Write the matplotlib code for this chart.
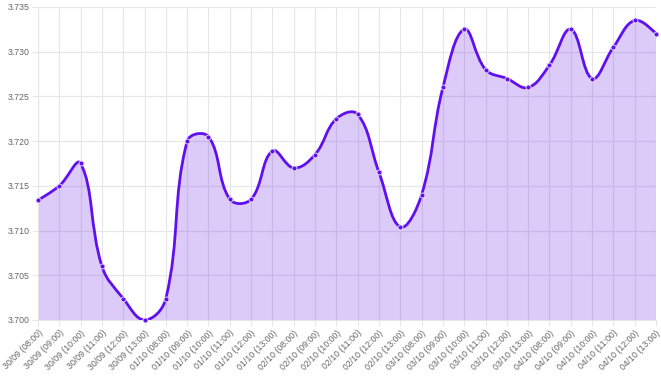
import matplotlib
matplotlib.use("Agg")
import matplotlib.pyplot as plt
import numpy as np
from matplotlib.path import Path
from matplotlib.patches import PathPatch

plt.rcParams["font.family"] = ["Liberation Sans", "DejaVu Sans"]

# data
days = ["30/09", "01/10", "02/10", "03/10", "04/10"]
hours = ["08:00", "09:00", "10:00", "11:00", "12:00", "13:00"]
labels = [f"{d} ({h})" for d in days for h in hours]
values = [
    3.7134, 3.7150, 3.7175, 3.7060, 3.7024, 3.7000,
    3.7024, 3.7200, 3.7205, 3.7135, 3.7135, 3.7189,
    3.7170, 3.7185, 3.7225, 3.7230, 3.7165, 3.7104,
    3.7140, 3.7260, 3.7325, 3.7280, 3.7270, 3.7260,
    3.7285, 3.7325, 3.7270, 3.7305, 3.7335, 3.7320,
]
y_min, y_max, y_step = 3.700, 3.735, 0.005

line_color = "#6010f0"
fill_color = "#6013e8"
grid_color = "#e6e6e6"
text_color = "#666666"

fig = plt.figure(figsize=(6.61, 3.76), dpi=100)
ax = fig.add_axes([0.0575, 0.149, 0.935, 0.8325])

x = np.arange(len(values))
y = np.array(values)
ax.set_xlim(0, len(values) - 1)
ax.set_ylim(y_min, y_max)

# chart.js style spline (tension 0.4), computed in pixel space
fig.canvas.draw()
pts = ax.transData.transform(np.column_stack([x, y]))
tension = 0.4
cp_prev = pts.copy()
cp_next = pts.copy()
for i in range(1, len(pts) - 1):
    p0, p1, p2 = pts[i - 1], pts[i], pts[i + 1]
    d01 = np.hypot(*(p1 - p0))
    d12 = np.hypot(*(p2 - p1))
    s01 = d01 / (d01 + d12)
    s12 = d12 / (d01 + d12)
    cp_prev[i] = p1 - tension * s01 * (p2 - p0)
    cp_next[i] = p1 + tension * s12 * (p2 - p0)
inv = ax.transData.inverted()
cp_prev = inv.transform(cp_prev)
cp_next = inv.transform(cp_next)
cp_prev[:, 1] = np.clip(cp_prev[:, 1], y_min, y_max)
cp_next[:, 1] = np.clip(cp_next[:, 1], y_min, y_max)

verts = [(x[0], y[0])]
codes = [Path.MOVETO]
for i in range(len(x) - 1):
    verts += [tuple(cp_next[i]), tuple(cp_prev[i + 1]), (x[i + 1], y[i + 1])]
    codes += [Path.CURVE4] * 3

fill_verts = verts + [(x[-1], y_min), (x[0], y_min), (x[0], y[0])]
fill_codes = codes + [Path.LINETO, Path.LINETO, Path.CLOSEPOLY]
ax.add_patch(PathPatch(Path(fill_verts, fill_codes), facecolor=fill_color,
                       alpha=0.22, edgecolor="none", zorder=1))
ax.add_patch(PathPatch(Path(verts, codes), facecolor="none",
                       edgecolor=line_color, lw=2, zorder=3))
ax.plot(x, y, "o", color=line_color, markersize=3.6, markeredgecolor="#f0e8ff",
        markeredgewidth=0.6, zorder=4, clip_on=False)

# axes
ax.set_xticks(x)
ax.set_xticklabels(labels, rotation=45, ha="right", rotation_mode="anchor")
ax.set_yticks(np.arange(y_min, y_max + 1e-9, y_step))
ax.yaxis.set_major_formatter(matplotlib.ticker.FormatStrFormatter("%.3f"))
ax.tick_params(axis="both", colors=grid_color, labelcolor=text_color,
               labelsize=6.3, length=4, width=0.8, pad=2)
ax.grid(True, color=grid_color, lw=0.8, zorder=0)
ax.set_axisbelow(True)
for s in ax.spines.values():
    s.set_visible(False)
ax.spines["left"].set_visible(True)
ax.spines["left"].set_color(grid_color)
ax.spines["bottom"].set_visible(True)
ax.spines["bottom"].set_color(grid_color)

fig.savefig("out.png", dpi=100)
